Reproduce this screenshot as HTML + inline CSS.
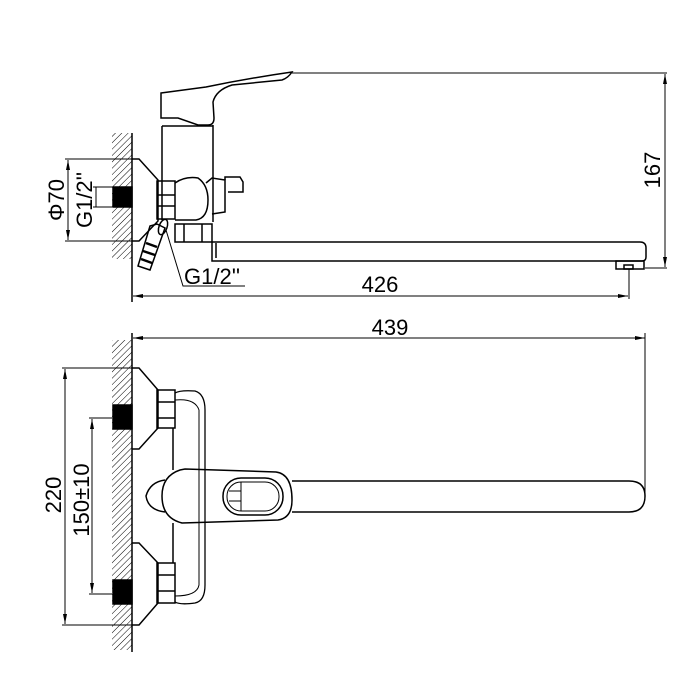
<!DOCTYPE html>
<html><head><meta charset="utf-8"><style>
html,body{margin:0;padding:0;background:#fff}
svg{display:block}
text{font-family:"Liberation Sans",Arial,sans-serif;fill:#000}
</style></head><body>
<svg width="700" height="700" viewBox="0 0 700 700" xmlns="http://www.w3.org/2000/svg">
<defs>
<pattern id="h" width="4.5" height="4.5" patternUnits="userSpaceOnUse" patternTransform="rotate(45)">
<line x1="0" y1="0" x2="0" y2="4.5" stroke="#000" stroke-width="1"/>
</pattern>
<marker id="a" markerWidth="10" markerHeight="6" refX="10" refY="3" orient="auto-start-reverse" markerUnits="userSpaceOnUse">
<path d="M0,1 L10,3 L0,5z" fill="#000"/></marker>
</defs>
<g fill="none" stroke="#000" stroke-width="1.5">
<rect x="112" y="133" width="20" height="126" fill="url(#h)" stroke="none"/>
<line x1="132" y1="133" x2="132" y2="302"/>
<rect x="113" y="187" width="19" height="20" fill="#000"/>
<path d="M132,159 H139 L158,180 V221 L139,241 H132"/>
<line x1="65" y1="159" x2="132" y2="159" stroke-width="1"/>
<line x1="65" y1="241" x2="132" y2="241" stroke-width="1"/>
<line x1="68" y1="160" x2="68" y2="240" stroke-width="1" marker-start="url(#a)" marker-end="url(#a)"/>
<line x1="93" y1="187" x2="112" y2="187" stroke-width="1"/>
<line x1="93" y1="207" x2="112" y2="207" stroke-width="1"/>
<line x1="96" y1="187" x2="96" y2="207" stroke-width="1"/>
<path d="M161,93 L206,87 Q250,78 292,72 Q288,78 282,80 L232,85 Q216,90 213,102 L214,118 Q214,125 208,125 L198,125 L178,118 L161,118 Z"/>
<path d="M162,126 V220 M213,125 V222 M162,126 H213"/>
<rect x="157" y="181" width="18" height="38"/>
<line x1="157" y1="195" x2="175" y2="195"/><line x1="157" y1="206" x2="175" y2="206"/>
<path d="M175,183 Q185,176 198,178 Q208,185 208,200 Q208,218 196,220 L175,220"/>
<path d="M206,183 L212,178 L225,180 V212 L212,214"/>
<path d="M225,180 V177 H240 L243,182 V192 H228"/>
<rect x="175" y="224" width="37" height="18"/>
<line x1="184" y1="224" x2="184" y2="242"/><line x1="202" y1="224" x2="202" y2="242"/>
<path d="M212,242 H640 Q646,242 646,248 V257 Q646,261 642,261 L212,261 Z"/>
<path d="M216,243 V258"/>
<rect x="616" y="261" width="28" height="8"/>
<rect x="624" y="265" width="9" height="4"/>
<line x1="629" y1="269" x2="629" y2="299" stroke-width="1"/>
<path d="M157,224 L165,228 L150,270 L138,266 L150,226 Z"/>
<path d="M146,243 L157,247 M143,251 L155,255 M141,259 L152,263" stroke-width="2.5"/>
<ellipse cx="163" cy="227" rx="4" ry="8" transform="rotate(20 163 227)"/>
<polyline points="166,230 183,286 245,286" stroke-width="1"/>
<line x1="292" y1="73" x2="667" y2="73" stroke-width="1"/>
<line x1="645" y1="268" x2="667" y2="268" stroke-width="1"/>
<line x1="665" y1="74" x2="665" y2="267" stroke-width="1" marker-start="url(#a)" marker-end="url(#a)"/>
<line x1="133" y1="296" x2="628" y2="296" stroke-width="1" marker-start="url(#a)" marker-end="url(#a)"/>

<rect x="112" y="340" width="20" height="310" fill="url(#h)" stroke="none"/>
<line x1="132" y1="333" x2="132" y2="652"/>
<rect x="113" y="405" width="19" height="24" fill="#000"/>
<rect x="113" y="580" width="19" height="24" fill="#000"/>
<line x1="133" y1="338" x2="645" y2="338" stroke-width="1" marker-start="url(#a)" marker-end="url(#a)"/>
<line x1="645" y1="333" x2="645" y2="497" stroke-width="1"/>
<path d="M132,368 H139 L158,390 V428 L139,449 H132"/>
<path d="M132,543 H139 L158,563 V603 L139,625 H132"/>
<rect x="157" y="390" width="18" height="38"/>
<line x1="157" y1="402" x2="175" y2="402"/><line x1="157" y1="418" x2="175" y2="418"/>
<rect x="157" y="563" width="18" height="40"/>
<line x1="157" y1="575" x2="175" y2="575"/><line x1="157" y1="591" x2="175" y2="591"/>
<path d="M175,393 Q180,390 195,391 Q205,394 205,410 V585 Q205,601 195,603 Q180,605 175,602" stroke-width="1.3"/>
<path d="M175,400 Q195,398 199,410 V585 Q197,596 175,596" stroke-width="1"/>
<path d="M173,428 V470 M173,523 V563"/>
<path d="M165,480 Q150,482 146,496 Q148,510 165,512"/>
<path d="M180,470 Q162,476 162,496 Q162,518 182,523 L278,520 Q292,518 292,500 Q292,474 276,472 L185,469 Z"/>
<rect x="223" y="478" width="60" height="37" rx="18"/>
<rect x="227" y="482" width="52" height="29" rx="14" stroke-width="1"/>
<line x1="229" y1="491" x2="241" y2="491" stroke-width="1"/>
<line x1="229" y1="501" x2="241" y2="501" stroke-width="1"/>
<line x1="241" y1="482" x2="241" y2="511" stroke-width="1"/>
<path d="M292,481 H629 Q645,481 645,496 Q645,512 629,512 H292"/>
<line x1="62" y1="368" x2="132" y2="368" stroke-width="1"/>
<line x1="62" y1="625" x2="132" y2="625" stroke-width="1"/>
<line x1="65" y1="369" x2="65" y2="624" stroke-width="1" marker-start="url(#a)" marker-end="url(#a)"/>
<line x1="89" y1="418" x2="112" y2="418" stroke-width="1"/>
<line x1="89" y1="594" x2="112" y2="594" stroke-width="1"/>
<line x1="92" y1="419" x2="92" y2="593" stroke-width="1" marker-start="url(#a)" marker-end="url(#a)"/>
</g>
<g font-size="22">
<text x="184" y="284">G1/2''</text>
<text x="380" y="292" text-anchor="middle">426</text>
<text x="390" y="335" text-anchor="middle">439</text>
<text transform="translate(660,170) rotate(-90)" text-anchor="middle">167</text>
<text transform="translate(64,200) rotate(-90)" text-anchor="middle">Φ70</text>
<text transform="translate(92,200) rotate(-90)" text-anchor="middle">G1/2''</text>
<text transform="translate(61,495) rotate(-90)" text-anchor="middle">220</text>
<text transform="translate(89,500) rotate(-90)" text-anchor="middle">150±10</text>
</g>
</svg>
</body></html>
